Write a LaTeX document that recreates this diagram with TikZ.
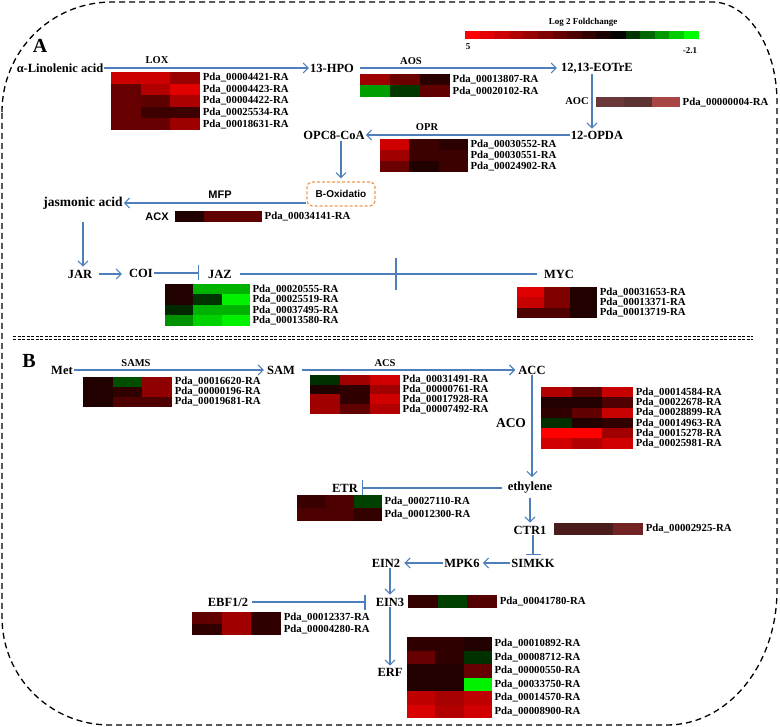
\documentclass[tikz,border=0pt]{standalone}
\usepackage{fontspec}
\setmainfont{Liberation Serif}
\setsansfont{Liberation Sans}
\usetikzlibrary{arrows.meta}
\definecolor{flowblue}{HTML}{4F7FBA}
\definecolor{boxorange}{HTML}{EE9A50}
\definecolor{aocA}{HTML}{6A3838}
\definecolor{aocB}{HTML}{5C3232}
\definecolor{aocC}{HTML}{A84646}
\definecolor{ctrA}{HTML}{4A1C1C}
\definecolor{ctrB}{HTML}{722222}

% heat map: name, x, y, cell width, cell height, colour rows, genes
\newcommand{\heatmap}[7]{%
  \foreach \hrow [count=\r] in {#6}
    \foreach \hc [count=\k] in \hrow
      \fill[fill=\hc] ({#2+(\k-1)*#4},{#3+(\r-1)*#5}) rectangle ++(#4,#5);
  \foreach \g [count=\r] in {#7}
    \node[gene] (#1-\r) at ({#2+3*#4+2.5},{#3+(\r-0.5)*#5}) {Pda\_\g-RA};
}

\begin{document}
\begin{tikzpicture}[x=1pt,y=-1pt,
  main/.style={font=\bfseries\fontsize{12.5}{14}\selectfont, inner sep=1pt},
  enz/.style={font=\bfseries\fontsize{10.5}{12}\selectfont, inner sep=1pt},
  enzsf/.style={font=\sffamily\bfseries\fontsize{11}{12}\selectfont, inner sep=1pt},
  gene/.style={font=\bfseries\fontsize{10.8}{11}\selectfont, anchor=west, inner sep=0pt},
  panel/.style={font=\bfseries\fontsize{20}{22}\selectfont, inner sep=0pt},
  keytext/.style={font=\bfseries\fontsize{9}{10}\selectfont, inner sep=1pt},
  flow/.style={flowblue, line width=1.1pt, -{Straight Barb[length=5pt,width=10pt]}},
  block/.style={flowblue, line width=1.1pt, -{Bar[width=15pt]}},
  link/.style={flowblue, line width=1.1pt},
  border/.style={line width=1.3pt, dash pattern=on 6pt off 4pt}]
\useasboundingbox (0,0) rectangle (780,727);

% outer frame
\draw[border] (2,112) .. controls (2,51) and (51,2) .. (112,2) -- (712,2)
  .. controls (748,2) and (777,47) .. (777,102) -- (777,590)
  .. controls (777,665) and (728,725) .. (667,725) -- (110,725)
  .. controls (50,725) and (2,677) .. (2,617) -- cycle;
% separator
\draw[line width=1.3pt, dash pattern=on 3pt off 1.5pt] (13,336.5) -- (753,336.5);
\draw[line width=1.3pt, dash pattern=on 3pt off 1.5pt] (13,339.5) -- (753,339.5);

% colour key
\node[keytext] (keytitle) at (583,22) {Log 2 Foldchange};
\foreach \i [evaluate=\i as \p using int(100-10*\i)] in {0,...,10}
  \fill[fill=red!\p!black] ({465+\i*14.6},31) rectangle ++(14.6,8);
\foreach \i [evaluate=\i as \p using int(20*(\i-10))] in {11,...,15}
  \fill[fill=green!\p!black] ({465+\i*14.6},31) rectangle ++(14.6,8);
\node[keytext] (keymax) at (468,47) {5};
\node[keytext] (keymin) at (690,51) {-2.1};

%% A: jasmonic acid
\node[panel] (labA) at (40,46) {A};
\node[main] (lin) at (60,68) {α-Linolenic acid};
\node[main] (hpo) at (332,68) {13-HPO};
\node[main] (eotre) at (597,68) {12,13-EOTrE};
\node[main] (opda) at (597,135) {12-OPDA};
\node[main] (opc) at (334,135) {OPC8-CoA};
\node[draw=boxorange, line width=1.3pt, dash pattern=on 3pt off 2pt, rounded corners=5pt,
  font=\sffamily\bfseries\fontsize{10}{12}\selectfont, minimum width=68pt, minimum height=24pt,
  inner sep=0pt] (boxi) at (341,194) {B-Oxidatio};
\node[main, font=\bfseries\fontsize{13.5}{15}\selectfont] (ja) at (83,203) {jasmonic acid};
\node[main] (jar) at (80,274) {JAR};
\node[main] (coi) at (141,273) {COI};
\node[main] (jaz) at (220,274) {JAZ};
\node[main] (myc) at (559,274) {MYC};

\node[enz] (lox) at (157,60) {LOX};
\node[enz] (aos) at (411,61) {AOS};
\node[enz] (aoc) at (577,101) {AOC};
\node[enz] (opr) at (427,127) {OPR};
\node[enzsf] (mfp) at (220,195) {MFP};
\node[enzsf] (acx) at (157,217) {ACX};

\draw[flow] (lin.east) -- (hpo.west);
\draw[flow, shorten <=5pt, shorten >=3pt] (hpo.east) -- (eotre.west);
\draw[flow, shorten >=1pt] ([xshift=-5pt]eotre.south) -- ([xshift=-5pt]opda.north);
\draw[flow] (opda.west) -- (opc.east);
\draw[flow, shorten <=1pt, shorten >=3pt] (opc.south -| boxi.north) -- (boxi.north);
\draw[flow] (boxi.west |- ja.east) -- (ja.east);
\draw[flow, shorten <=12pt, shorten >=2pt] (ja.south) -- (ja.south |- jar.north);
\draw[flow, shorten <=6pt, shorten >=6pt] (jar.east) -- (jar.east -| coi.west);
\draw[block, shorten >=8pt] (coi.east) -- (coi.east -| jaz.west);
\draw[link, shorten <=7pt, shorten >=6pt] (jaz.east) -- (myc.west);
\draw[link] (396,258) -- (396,290);

\heatmap{lox}{111}{72}{29.7}{11.6}{{red!80!black,red!80!black,red!60!black},
  {red!40!black,red!70!black,red!88!black},{red!40!black,red!36!black,red!68!black},
  {red!40!black,red!24!black,red!24!black},{red!40!black,red!40!black,red!62!black}}
  {00004421,00004423,00004422,00025534,00018631}
\heatmap{aos}{360}{74}{30}{11.5}{{red!62!black,red!42!black,red!17!black},
  {green!62!black,green!22!black,red!38!black}}{00013807,00020102}
\heatmap{aocg}{596}{97}{28}{10.5}{{aocA,aocB,aocC}}{00000004}
\heatmap{opr}{380}{139}{29.3}{11}{{red!82!black,red!23!black,red!17!black},
  {red!63!black,red!23!black,red!23!black},{red!42!black,red!13!black,red!23!black}}
  {00030552,00030551,00024902}
\heatmap{acx}{175}{211}{29}{11}{{red!13!black,red!38!black,red!38!black}}{00034141}
\heatmap{jaz}{165}{284}{28.3}{10.5}{{red!13!black,green!70!black,green!70!black},
  {red!13!black,green!20!black,green!95!black},{green!16!black,green!70!black,green!70!black},
  {green!57!black,green!82!black,green!95!black}}{00020555,00025519,00037495,00013580}
\heatmap{myc}{517}{287}{26.7}{10.3}{{red!88!black,red!50!black,red!13!black},
  {red!78!black,red!50!black,red!13!black},{red!31!black,red!31!black,red!13!black}}
  {00031653,00013371,00013719}

%% B: ethylene
\node[panel] (labB) at (29,361) {B};
\node[main] (met) at (62,370) {Met};
\node[main] (sam) at (281,370) {SAM};
\node[main] (acc) at (532,370) {ACC};
\node[main] (eth) at (530,488) {ethylene};
\node[main] (etr) at (345,488) {ETR};
\coordinate (etrbar) at (362,488);
\node[main] (ctr) at (530,530) {CTR1};
\node[main] (simkk) at (533,563) {SIMKK};
\node[main] (mpk) at (462,563) {MPK6};
\node[main] (ein2) at (386,563) {EIN2};
\node[main] (ein3) at (390,602) {EIN3};
\node[main] (ebf) at (228,602) {EBF1/2};
\node[main] (erf) at (390,672) {ERF};

\node[enz] (sams) at (136,363) {SAMS};
\node[enz] (acs) at (385,363) {ACS};
\node[main, font=\bfseries\fontsize{13.5}{15}\selectfont] (aco) at (511,423) {ACO};

\draw[flow, shorten >=2pt] (met.east) -- (sam.west);
\draw[flow, shorten <=6pt, shorten >=2pt] (sam.east) -- (acc.west);
\draw[flow, shorten >=4pt] (acc.south) -- (acc.south |- eth.north);
\draw[block, shorten <=5pt] (eth.west) -- (etrbar);
\draw[flow, shorten <=3pt, shorten >=2pt] (eth.south) -- (eth.south |- ctr.north);
\draw[block, shorten >=3pt] (ctr.south -| simkk.north) -- (simkk.north);
\draw[flow, shorten >=2pt] (simkk.west) -- (mpk.east);
\draw[flow, shorten >=3pt] (mpk.west) -- (ein2.east);
\draw[flow, shorten >=2pt] (ein3.north |- ein2.south) -- (ein3.north);
\draw[block, shorten <=3pt, shorten >=9pt] (ebf.east) -- (ein3.west);
\draw[flow, shorten >=1pt] (ein3.south) -- (erf.north);

\heatmap{sams}{83}{377}{29.7}{10}{{red!13!black,green!31!black,red!57!black},
  {red!13!black,red!19!black,red!57!black},{red!13!black,red!31!black,red!31!black}}
  {00016620,00000196,00019681}
\heatmap{acs}{310}{375}{30}{9.75}{{green!19!black,red!63!black,red!82!black},
  {red!13!black,red!19!black,red!63!black},{red!63!black,red!19!black,red!82!black},
  {red!63!black,red!38!black,red!70!black}}{00031491,00000761,00017928,00007492}
\heatmap{aco}{541}{387}{30.7}{10.3}{{red!70!black,red!38!black,red!78!black},
  {red!13!black,red!13!black,red!31!black},{red!19!black,red!38!black,red!78!black},
  {green!19!black,red!13!black,red!19!black},{red!100!black,red!100!black,red!63!black},
  {red!82!black,red!70!black,red!82!black}}
  {00014584,00022678,00028899,00014963,00015278,00025981}
\heatmap{etr}{297}{495}{28.3}{13}{{red!22!black,red!30!black,green!25!black},
  {red!30!black,red!30!black,red!20!black}}{00027110,00012300}
\heatmap{ctr}{554}{523}{29.7}{12}{{ctrA,ctrA,ctrB}}{00002925}
\heatmap{ein}{408}{595}{29.7}{13}{{red!20!black,green!25!black,red!32!black}}{00041780}
\heatmap{ebf}{192}{612}{29.7}{11.5}{{red!38!black,red!63!black,red!19!black},
  {red!19!black,red!63!black,red!19!black}}{00012337,00004280}
\heatmap{erf}{407}{637}{28.3}{13.5}{{red!19!black,red!19!black,red!13!black},
  {red!40!black,red!19!black,green!19!black},{red!13!black,red!13!black,red!40!black},
  {red!13!black,red!13!black,green!95!black},{red!75!black,red!65!black,red!75!black},
  {red!85!black,red!70!black,red!82!black}}
  {00010892,00008712,00000550,00033750,00014570,00008900}
\end{tikzpicture}
\end{document}
